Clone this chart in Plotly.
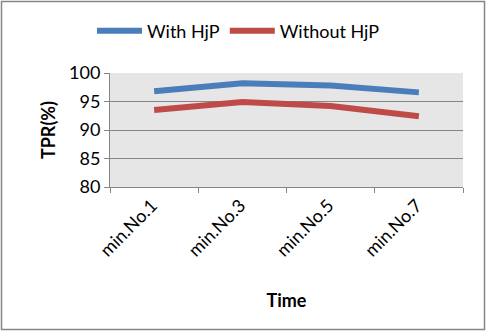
import plotly.graph_objects as go

categories = ["min.No.1", "min.No.3", "min.No.5", "min.No.7"]
with_hjp = [96.8, 98.2, 97.8, 96.6]
without_hjp = [93.5, 94.9, 94.2, 92.4]
y_ticks = [80, 85, 90, 95, 100]

FONT = "Lato, Open Sans, sans-serif"

fig = go.Figure()
fig.add_trace(go.Scatter(x=categories, y=with_hjp, name="With HjP", mode="lines",
                         line=dict(color="#4a7ebb", width=6)))
fig.add_trace(go.Scatter(x=categories, y=without_hjp, name="Without HjP", mode="lines",
                         line=dict(color="#be4b48", width=6)))

L, R, T, B = 110, 24, 73, 145
W, H = 487, 332
pw, ph = W - L - R, H - T - B

fig.update_layout(
    width=W, height=H,
    margin=dict(l=L, r=R, t=T, b=B, autoexpand=False),
    paper_bgcolor="white",
    plot_bgcolor="#e6e6e6",
    font=dict(family=FONT, size=18, color="black"),
    showlegend=True,
    legend=dict(orientation="h", x=(92 - L) / pw, xanchor="left", y=1 + 42/ph, yanchor="middle",
                font=dict(size=18), bgcolor="rgba(0,0,0,0)", itemwidth=45),
    xaxis=dict(type="category", range=[-0.5, 3.5], tickangle=-45, automargin=False,
               showline=True, linecolor="#868686", linewidth=1,
               ticks="outside", tickson="boundaries", ticklen=5, tickcolor="#868686",
               showgrid=False, tickfont=dict(size=18), ticklabelshift=-2,
               title=dict(text="<b>Time</b>", font=dict(size=18), standoff=34)),
    yaxis=dict(range=[80, 100], tickvals=y_ticks, automargin=False,
               showline=True, linecolor="#868686", linewidth=1,
               ticks="outside", ticklen=5, tickcolor="#868686",
               showgrid=True, gridcolor="#868686", gridwidth=1,
               tickfont=dict(size=18), zeroline=False,
               title=dict(text="<b>TPR(%)</b>", font=dict(size=18), standoff=8)),
    shapes=[dict(type="rect", xref="paper", yref="paper",
                 x0=(1.5 - L) / pw, x1=(W - 2.5 - L) / pw,
                 y0=-(B - 2.5) / ph,
                 y1=1 + (T - 1.5) / ph,
                 line=dict(color="#868686", width=1.5), layer="below")],
)

fig.write_html("out.html", config={"displayModeBar": False},
               post_script="document.body.style.margin='0';")
